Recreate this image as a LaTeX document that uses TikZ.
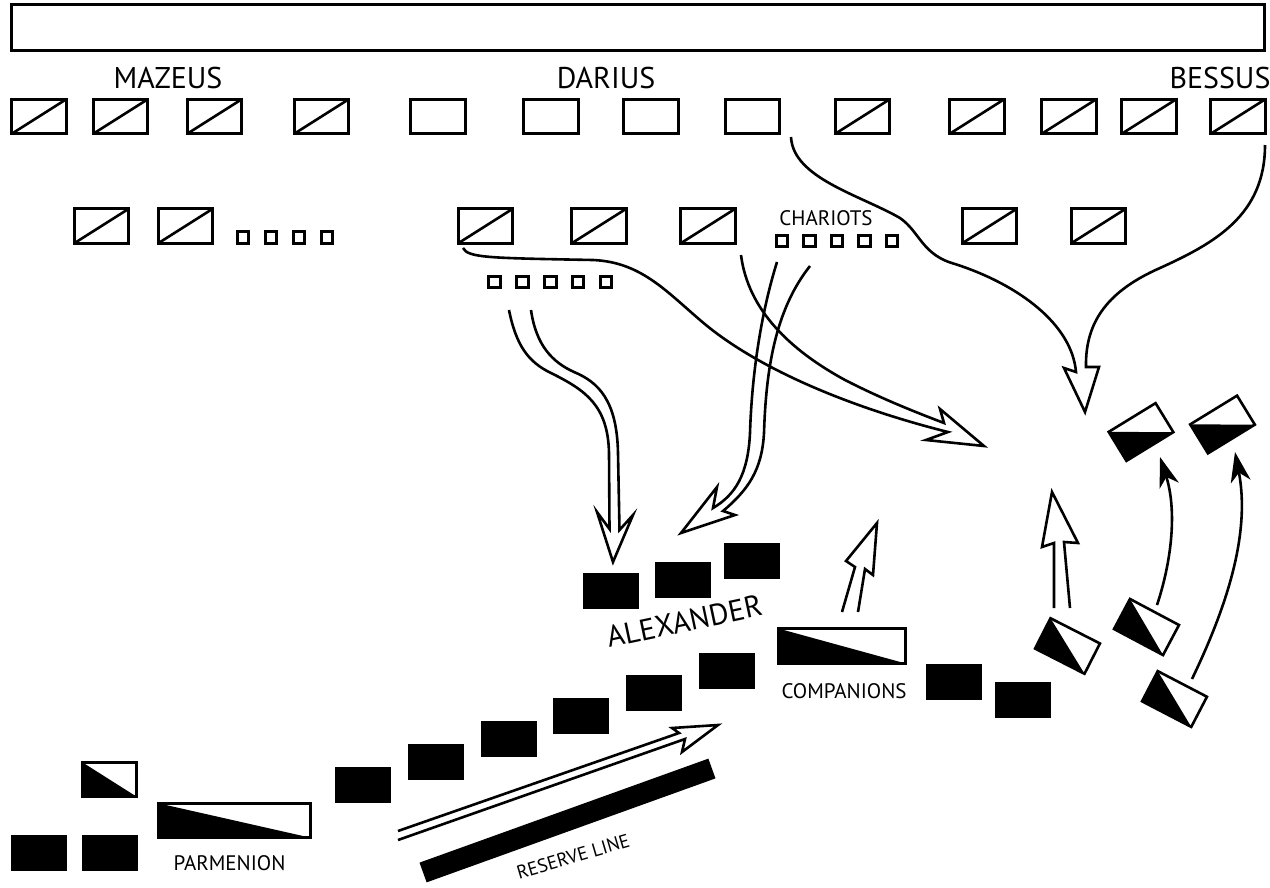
\documentclass[tikz,border=0pt]{standalone}
\usepackage{fontspec}
\setmainfont{PT Sans}
\usetikzlibrary{arrows.meta}
\newcommand\myhalffill[1]{\fill (#1.north west) -- (#1.south west) -- (#1.south east) -- cycle;}
\begin{document}
\begin{tikzpicture}[x=1pt,y=-1pt,
  lw/.style={line width=2.6pt},
  box/.style={draw, lw, minimum width=54.5pt, minimum height=34.5pt, inner sep=0pt, outer sep=0pt},
  dbox/.style={box, path picture={\draw[lw] (path picture bounding box.south west) -- (path picture bounding box.north east);}},
  blk/.style={fill=black, minimum width=56pt, minimum height=36pt, inner sep=0pt, outer sep=0pt},
  hbox/.style={draw, lw, inner sep=0pt, outer sep=0pt},
  sq/.style={draw, lw, minimum size=11.5pt, inner sep=0pt, outer sep=0pt},
  bigtxt/.style={font=\fontsize{30}{30}\selectfont, inner sep=0pt, anchor=base},
  smtxt/.style={font=\fontsize{21}{21}\selectfont, inner sep=0pt, anchor=base},
  harr/.style={lw, line join=miter},
  farr/.style={lw, -{Stealth[length=30pt,width=20pt,inset=9pt]}},
]
\fill[white] (0,0) rectangle (1270,887);
\useasboundingbox (0,0) rectangle (1270,887);

% top bar
\node[draw, lw, minimum width=1253pt, minimum height=46pt, inner sep=0pt] (bar) at (638,27.5) {};

% labels
\node[bigtxt] (mazeus) at (168,88) {MAZEUS};
\node[bigtxt] (darius) at (606,88) {DARIUS};
\node[bigtxt] (bessus) at (1220,88) {BESSUS};

% top row
\foreach \n/\x in {t1/39, t2/120.5, t3/214.5, t4/321.5, t9/862.5, t10/977, t11/1069, t12/1149, t13/1238}
  \node[dbox] (\n) at (\x,116.5) {};
\foreach \n/\x in {t5/438, t6/551, t7/651, t8/752.5}
  \node[box] (\n) at (\x,116.5) {};

% second row
\foreach \n/\x in {s1/101.5, s2/185.5, s3/485.5, s4/599, s5/708, s6/989.5, s7/1098.5}
  \node[dbox] (\n) at (\x,226) {};
\foreach \n/\x in {q1/243, q2/271, q3/299, q4/327}
  \node[sq] (\n) at (\x,237.5) {};
\foreach \n/\x in {c1/782, c2/809.5, c3/837, c4/864.5, c5/892}
  \node[sq] (\n) at (\x,241) {};
\foreach \n/\x in {p1/494.5, p2/522.5, p3/550.5, p4/578, p5/606}
  \node[sq] (\n) at (\x,282) {};
\node[smtxt] (chariots) at (826,225) {CHARIOTS};

% Alexander group
\node[blk] (a1) at (611,591) {};
\node[blk] (a2) at (683,580) {};
\node[blk] (a3) at (752,561) {};
\node[bigtxt, rotate=12] (alex) at (686.5,631.5) {ALEXANDER};

% staircase
\node[blk] (b1) at (362.5,785) {};
\node[blk] (b2) at (436,761.5) {};
\node[blk] (b3) at (508.5,739) {};
\node[blk] (b4) at (580.5,715.5) {};
\node[blk] (b5) at (654,693) {};
\node[blk] (b6) at (727,671) {};
\node[blk] (b7) at (954,682) {};
\node[blk] (b8) at (1022.5,699.5) {};
\node[blk] (b9) at (38.5,853) {};
\node[blk] (b10) at (109.5,853) {};

% half boxes
\node[hbox, minimum width=54.5pt, minimum height=34.5pt] (hsmall) at (109.5,779.5) {};
\myhalffill{hsmall}
\node[hbox, minimum width=152.5pt, minimum height=34.5pt] (parm) at (234.5,820.5) {};
\myhalffill{parm}
\node[hbox, minimum width=127.5pt, minimum height=35pt] (comp) at (842,646) {};
\myhalffill{comp}
\node[hbox, minimum width=55pt, minimum height=34pt, rotate=31.5] (r1) at (1141,432) {};
\myhalffill{r1}
\node[hbox, minimum width=55pt, minimum height=34pt, rotate=31.5] (r2) at (1222.5,424.5) {};
\myhalffill{r2}
\node[hbox, minimum width=55.5pt, minimum height=34pt, rotate=-27] (l1) at (1067.5,646) {};
\myhalffill{l1}
\node[hbox, minimum width=55.5pt, minimum height=34pt, rotate=-28] (l2) at (1146.5,627) {};
\myhalffill{l2}
\node[hbox, minimum width=55.5pt, minimum height=34pt, rotate=-27.5] (l3) at (1174.5,699) {};
\myhalffill{l3}

\node[smtxt] (parmlbl) at (229.5,870) {PARMENION};
\node[smtxt] (complbl) at (844,698) {COMPANIONS};

% reserve line
\node[fill=black, minimum width=307pt, minimum height=21pt, inner sep=0pt, rotate=19.8] (reserve) at (567.5,820.5) {};
\node[font=\fontsize{19}{19}\selectfont, inner sep=0pt, anchor=base, rotate=16.5] (reslbl) at (575,863) {RESERVE LINE};

% ---- hollow arrows ----
% A: from Darius line and Bessus to the right
\coordinate (As1) at (791,137);
\coordinate (As2) at (1265,145);
\draw[harr] (As1) .. controls (793,178) and (860,195) .. (900,218)
  .. controls (920,232) and (922,255) .. (955,264)
  .. controls (1020,285) and (1072,325) .. (1076,372)
  -- (1064,368) -- (1085,412) -- (1099,367) -- (1086,367)
  .. controls (1085,320) and (1110,290) .. (1160,268)
  .. controls (1215,243) and (1265,215) .. (As2);

% B: big arrow to the right
\coordinate (Bs1) at (741,255);
\coordinate (Bs2) at (463,248);
\draw[harr] (Bs1) .. controls (748,310) and (790,350) .. (845,380)
  .. controls (880,398) and (915,412) .. (944,423)
  -- (940,409) -- (984,446) -- (926,440) -- (948,432)
  .. controls (860,410) and (760,372) .. (700,320)
  .. controls (665,290) and (640,262) .. (593,260)
  .. controls (490,258) and (468,258) .. (Bs2);

% C: from squares to Alexander
\coordinate (Cs1) at (509,310);
\coordinate (Cs2) at (531,310);
\draw[harr] (Cs1) .. controls (516,345) and (528,362) .. (551,373)
  .. controls (585,390) and (608,405) .. (609,453)
  -- (609.5,529) -- (597,512) -- (613,562) -- (633,515) -- (619.5,530) -- (618,453)
  .. controls (617,400) and (598,382) .. (574,372)
  .. controls (552,362) and (536,345) .. (Cs2);

% D: chariots
\coordinate (Ds1) at (777,262);
\coordinate (Ds2) at (810,266);
\draw[harr] (Ds1) .. controls (762,310) and (752,370) .. (750,433)
  .. controls (748,475) and (735,495) .. (713,508)
  -- (717,487) -- (681,533) -- (735,515) -- (723,511)
  .. controls (748,490) and (762,470) .. (764,433)
  .. controls (766,370) and (775,310) .. (Ds2);

% E: companions forward
\coordinate (Es1) at (842,612);
\coordinate (Es2) at (858,612);
\draw[harr] (Es1) -- (855,567) -- (846,561) -- (877,523) -- (873,575) -- (865,569) -- (Es2);

% F: right wing forward
\coordinate (Fs1) at (1054,608);
\coordinate (Fs2) at (1070,608);
\draw[harr] (Fs1) -- (1054,543) -- (1042,547) -- (1052,492) -- (1078,543) -- (1064,542) -- (Fs2);

% H: reserve advance
\coordinate (Hs1) at (398,831);
\coordinate (Hs2) at (398,840);
\draw[harr] (Hs1) -- (679,733) -- (672,728) -- (718,725) -- (682,752) -- (685,739) -- (Hs2);

% G: solid arrows
\coordinate (G1s) at (1157,605);
\coordinate (G1e) at (1160,457);
\coordinate (G2s) at (1192,679);
\coordinate (G2e) at (1235,452);
\draw[farr] (G1s) .. controls (1172,560) and (1177,510) .. (G1e);
\draw[farr] (G2s) .. controls (1230,600) and (1250,530) .. (G2e);
\end{tikzpicture}
\end{document}
